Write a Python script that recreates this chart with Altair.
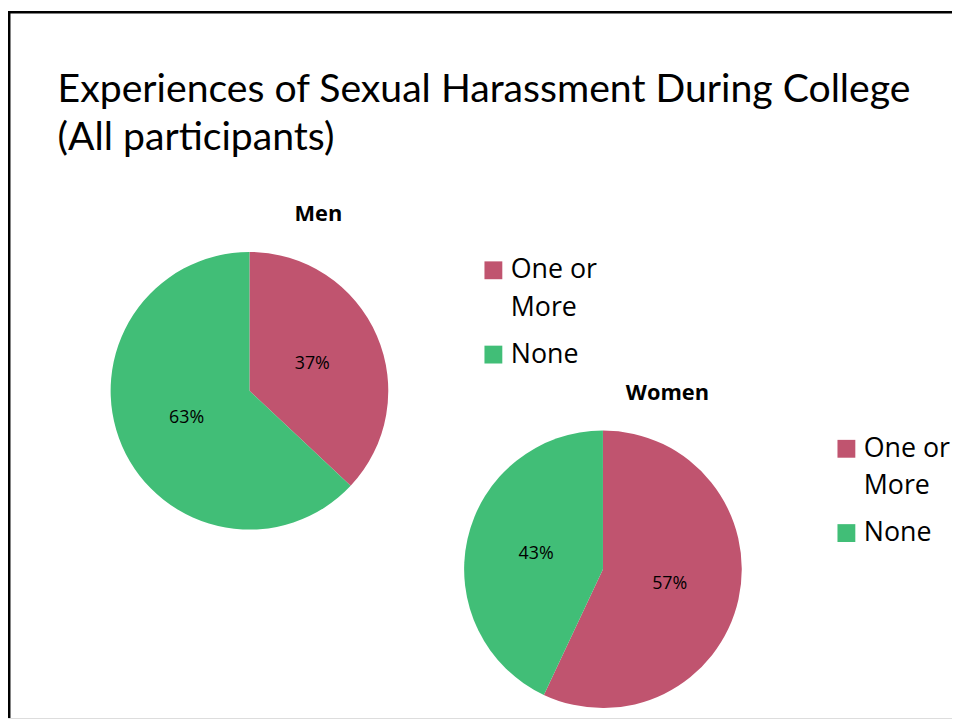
import altair as alt
import pandas as pd

# ---- data ----
categories = ["One or More", "None"]
men_pct = [37, 63]
women_pct = [57, 43]
colors = ["#C0546F", "#41BE77"]
title_lines = "Experiences of Sexual Harassment During College\n(All participants)"
group_titles = ["Men", "Women"]

df = pd.DataFrame({
    "group": [group_titles[0]] * len(categories) + [group_titles[1]] * len(categories),
    "category": categories * 2,
    "pct": men_pct + women_pct,
    "rank": list(range(len(categories))) * 2,
})

W, H = 952, 713
R = 140


def pie(group, cx, cy, lx, ly):
    base = alt.Chart(df).transform_filter(alt.datum.group == group).transform_calculate(
        label="datum.pct + '%'"
    )
    arc = base.mark_arc(radius=R).encode(
        theta=alt.Theta("pct:Q", stack=True),
        color=alt.Color(
            "category:N",
            scale=alt.Scale(domain=categories, range=colors),
            legend=alt.Legend(
                orient="none", legendX=lx, legendY=ly, title=None,
                symbolType="square", symbolSize=324, symbolStrokeWidth=0,
                labelFont="Open Sans", labelFontSize=27, labelColor="black",
                labelExpr="datum.label == 'One or More' ? ['One or', 'More'] : datum.label",
                labelOffset=4, padding=0, rowPadding=19, labelLimit=400,
            ),
        ),
        order=alt.Order("rank:Q"),
        x=alt.value(cx), y=alt.value(cy),
    )
    txt = base.mark_text(radius=69, font="Open Sans", fontSize=18, color="black",
                         baseline="middle", align="center").encode(
        theta=alt.Theta("pct:Q", stack=True),
        order=alt.Order("rank:Q"),
        text="label:N",
        x=alt.value(cx), y=alt.value(cy),
    )
    return alt.layer(arc, txt)


def heading(name, x, y):
    return alt.Chart(pd.DataFrame({"t": [name]})).mark_text(
        font="Open Sans", fontWeight="bold", fontSize=22, color="black",
        align="center", baseline="alphabetic"
    ).encode(text="t:N", x=alt.value(x), y=alt.value(y))


title = alt.Chart(pd.DataFrame({"t": [title_lines]})).mark_text(
    font="Lato", fontSize=39.5, color="black", align="left", baseline="alphabetic",
    lineBreak="\n", lineHeight=48
).encode(text="t:N", x=alt.value(50), y=alt.value(92))

one = pd.DataFrame({"a": [0]})
border_top = alt.Chart(one).mark_rule(color="black", strokeWidth=2.5).encode(
    x=alt.value(0), x2=alt.value(W), y=alt.value(1.25))
border_left = alt.Chart(one).mark_rule(color="black", strokeWidth=2.5).encode(
    x=alt.value(1.25), y=alt.value(0), y2=alt.value(H))

chart = alt.layer(
    border_top, border_left, title,
    heading(group_titles[0], 313, 212),
    heading(group_titles[1], 665, 392),
    pie(group_titles[0], 243.5, 383, 476, 248),
    pie(group_titles[1], 600, 563, 832, 428),
).resolve_scale(color="independent", theta="independent").properties(
    width=W, height=H, autosize=alt.AutoSizeParams(type="none"), padding=0
).configure_view(stroke=None).configure(
    style={"guide-label": {"lineHeight": 38}}
)

chart.save("out.html", embed_options={"renderer": "svg", "actions": False})
